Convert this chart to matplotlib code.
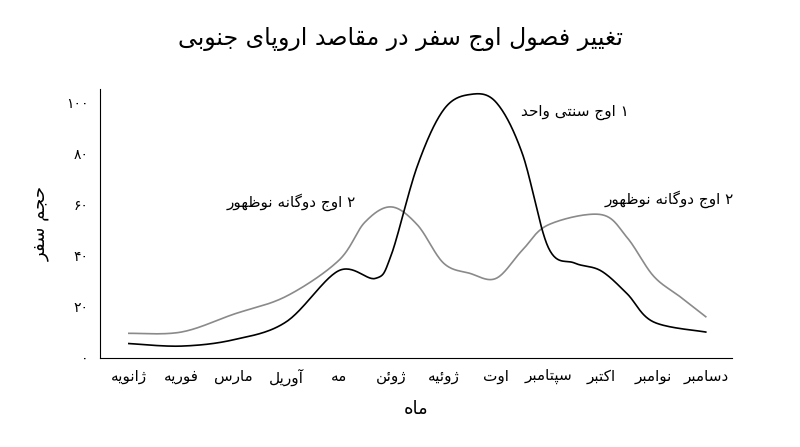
import matplotlib
matplotlib.use('Agg')
import matplotlib.pyplot as plt
import numpy as np

# Persian letter forms: isolated, final, initial, medial
FORMS = {
    'ا': ('\uFE8D', '\uFE8E', None, None), 'آ': ('\uFE81', '\uFE82', None, None),
    'د': ('\uFEA9', '\uFEAA', None, None), 'ر': ('\uFEAD', '\uFEAE', None, None),
    'ژ': ('\uFB8A', '\uFB8B', None, None), 'و': ('\uFEED', '\uFEEE', None, None),
    'ب': ('\uFE8F', '\uFE90', '\uFE91', '\uFE92'), 'پ': ('\uFB56', '\uFB57', '\uFB58', '\uFB59'),
    'ت': ('\uFE95', '\uFE96', '\uFE97', '\uFE98'), 'ج': ('\uFE9D', '\uFE9E', '\uFE9F', '\uFEA0'),
    'ح': ('\uFEA1', '\uFEA2', '\uFEA3', '\uFEA4'), 'س': ('\uFEB1', '\uFEB2', '\uFEB3', '\uFEB4'),
    'ص': ('\uFEB9', '\uFEBA', '\uFEBB', '\uFEBC'), 'ظ': ('\uFEC5', '\uFEC6', '\uFEC7', '\uFEC8'),
    'غ': ('\uFECD', '\uFECE', '\uFECF', '\uFED0'), 'ف': ('\uFED1', '\uFED2', '\uFED3', '\uFED4'),
    'ق': ('\uFED5', '\uFED6', '\uFED7', '\uFED8'), 'ک': ('\uFB8E', '\uFB8F', '\uFB90', '\uFB91'),
    'گ': ('\uFB92', '\uFB93', '\uFB94', '\uFB95'), 'ل': ('\uFEDD', '\uFEDE', '\uFEDF', '\uFEE0'),
    'م': ('\uFEE1', '\uFEE2', '\uFEE3', '\uFEE4'), 'ن': ('\uFEE5', '\uFEE6', '\uFEE7', '\uFEE8'),
    'ه': ('\uFEE9', '\uFEEA', '\uFEEB', '\uFEEC'), 'ی': ('\uFBFC', '\uFBFD', '\uFBFE', '\uFBFF'),
    'ئ': ('\uFE89', '\uFE8A', '\uFE8B', '\uFE8C'),
}


def fa(s):
    out = []
    for i, c in enumerate(s):
        if c not in FORMS:
            out.append(c)
            continue
        prev = s[i - 1] if i > 0 else ''
        nxt = s[i + 1] if i + 1 < len(s) else ''
        jp = prev in FORMS and FORMS[prev][2] is not None
        jn = FORMS[c][2] is not None and nxt in FORMS
        f = FORMS[c]
        out.append(f[3] if jp and jn else f[1] if jp else f[2] if jn else f[0])
    return ''.join(reversed(out))


months = ['ژانویه', 'فوریه', 'مارس', 'آوریل', 'مه', 'ژوئن', 'ژوئیه', 'اوت',
          'سپتامبر', 'اکتبر', 'نوامبر', 'دسامبر']
single_x = [0, 1, 2, 3, 4, 4.7, 5, 5.5, 6, 6.5, 7, 7.5, 8, 8.5, 9, 9.5, 10, 11]
single_y = [5.5, 4.5, 7, 14, 34, 31, 40, 75, 97, 103, 100, 80, 43, 37, 34, 25, 14, 10]
double_x = [0, 1, 2, 3, 4, 4.5, 5, 5.5, 6, 6.5, 7, 7.5, 8, 9, 9.5, 10, 10.5, 11]
double_y = [9.5, 10, 17, 24, 38, 53, 59, 52, 37, 33, 31, 42, 52, 56, 47, 32, 24, 16]
yticks = [0, 20, 40, 60, 80, 100]
ytick_labels = ['۰', '۲۰', '۴۰', '۶۰', '۸۰', '۱۰۰']


def smooth(x, y, n=30):
    # Catmull-Rom curve through the given points
    x = np.asarray(x, float); y = np.asarray(y, float)
    P = np.column_stack([x, y])
    P = np.vstack([P[0], P, P[-1]])
    pts = []
    t = np.linspace(0, 1, n)[:, None]
    for i in range(1, len(P) - 2):
        p0, p1, p2, p3 = P[i - 1], P[i], P[i + 1], P[i + 2]
        c = 0.5 * ((2 * p1) + (-p0 + p2) * t + (2 * p0 - 5 * p1 + 4 * p2 - p3) * t ** 2
                   + (-p0 + 3 * p1 - 3 * p2 + p3) * t ** 3)
        pts.append(c)
    c = np.vstack(pts)
    return c[:, 0], c[:, 1]


plt.rcParams['font.family'] = ['DejaVu Sans']
fig = plt.figure(figsize=(8, 4.47), dpi=100)
ax = fig.add_axes([0.125, 0.2, 0.79, 0.6])

sx, sy = smooth(single_x, single_y)
dx, dy = smooth(double_x, double_y)
ax.plot(dx, dy, color='#8a8a8a', lw=1.2)
ax.plot(sx, sy, color='black', lw=1.2)

ax.set_xlim(-0.55, 11.5)
ax.set_ylim(0, 105)
ax.set_xticks(range(len(months)))
ax.set_xticklabels([fa(m) for m in months], fontsize=11)
ax.set_yticks(yticks)
ax.set_yticklabels(ytick_labels, fontsize=10)
ax.tick_params(length=0, pad=8)
ax.spines['top'].set_visible(False)
ax.spines['right'].set_visible(False)

ax.text(8.5, 96, fa('۱ اوج سنتی واحد'), fontsize=11, ha='center', va='center')
ax.text(3.1, 61, fa('۲ اوج دوگانه نوظهور'), fontsize=11, ha='center', va='center')
ax.text(10.3, 62, fa('۲ اوج دوگانه نوظهور'), fontsize=11, ha='center', va='center')

ax.set_ylabel(fa('حجم سفر'), fontsize=13, labelpad=12)
ax.set_xlabel(fa('ماه'), fontsize=13, labelpad=10)
fig.suptitle(fa('تغییر فصول اوج سفر در مقاصد اروپای جنوبی'), fontsize=17, y=0.94)

fig.savefig('out.png', dpi=100)
